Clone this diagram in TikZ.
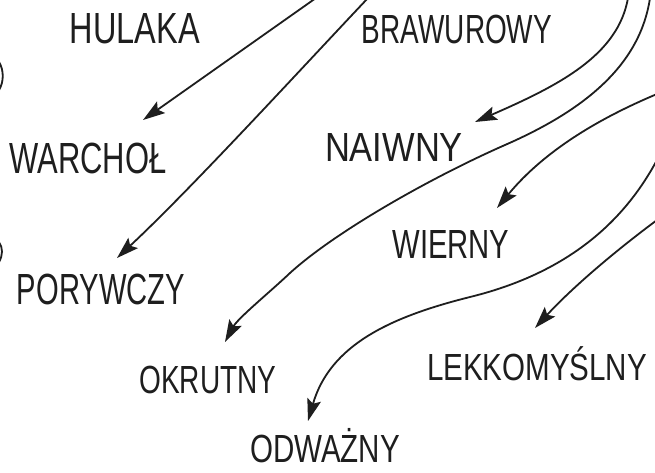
\documentclass[tikz,border=0pt]{standalone}
\usepackage{fontspec}
\setmainfont{Liberation Sans}
\usetikzlibrary{arrows.meta}
\definecolor{ink}{HTML}{1E1E1E}
\newcommand{\hw}[3]{\resizebox{#1pt}{#2pt}{\smash{#3}\vphantom{E}}}
\begin{document}
\begin{tikzpicture}[x=1pt,y=-1pt,
  word/.style={inner sep=0pt,text=ink},
  pen/.style={draw=ink,line width=1.8pt,line cap=round},
  arr/.style={pen,-{Stealth[length=22pt,width=14pt,inset=4pt]}}]
\useasboundingbox[fill=white] (0,0) rectangle (655,473);
% words
\node[word] (hulaka)  at (135,29)  {\hw{130}{30}{HULAKA}};
\node[word] (brawur)  at (457,29)  {\hw{190}{28}{BRAWUROWY}};
\node[word] (warchol) at (88,158)  {\hw{157}{30}{WARCHOŁ}};
\node[word] (naiwny)  at (394,147) {\hw{138}{28}{NAIWNY}};
\node[word] (wierny)  at (451,244) {\hw{117}{28}{WIERNY}};
\node[word] (porywczy) at (101,289) {\hw{168}{30}{PORYWCZY}};
\node[word] (okrutny) at (208,380) {\hw{137}{27}{OKRUTNY}};
\node[word] (lekko)   at (537,367) {\hw{220}{26}{LEKKOMYŚLNY}};
\node[word] (odwazny) at (325,449) {\hw{150}{27}{ODWAŻNY}};
% arrow ends
\coordinate (s1) at (316,-2);  \coordinate (t1) at (143,120);
\coordinate (s2) at (368,-2);  \coordinate (t2) at (117,258);
\coordinate (s3) at (628,-2);  \coordinate (t3) at (475,122);
\coordinate (s4) at (650,-2);  \coordinate (m4a) at (505,145); \coordinate (m4b) at (290,273); \coordinate (t4) at (225,342);
\coordinate (s5) at (657,94);  \coordinate (t5) at (497,208);
\coordinate (s6) at (657,160); \coordinate (m6) at (470,297); \coordinate (t6) at (308,421);
\coordinate (s7) at (657,220); \coordinate (t7) at (535,328);
% arrows
\draw[arr] (s1) -- (t1);
\draw[arr] (s2) .. controls (300,70) and (190,190) .. (t2);
\draw[arr] (s3) .. controls (618,55) and (560,85) .. (t3);
\draw[arr] (s4) .. controls (640,65) and (585,110) .. (m4a)
                .. controls (430,178) and (335,232) .. (m4b)
                .. controls (270,292) and (238,318) .. (t4);
\draw[arr] (s5) .. controls (600,118) and (545,150) .. (t5);
\draw[arr] (s6) .. controls (630,210) and (580,270) .. (m6)
                .. controls (390,317) and (330,345) .. (t6);
\draw[arr] (s7) .. controls (610,255) and (570,290) .. (t7);
% partial marks at the left edge
\draw[pen] (-1,62) .. controls (4,70) and (4,82) .. (-1,90);
\draw[pen] (-1,242) .. controls (3,248) and (3,255) .. (-1,262);
\end{tikzpicture}
\end{document}
